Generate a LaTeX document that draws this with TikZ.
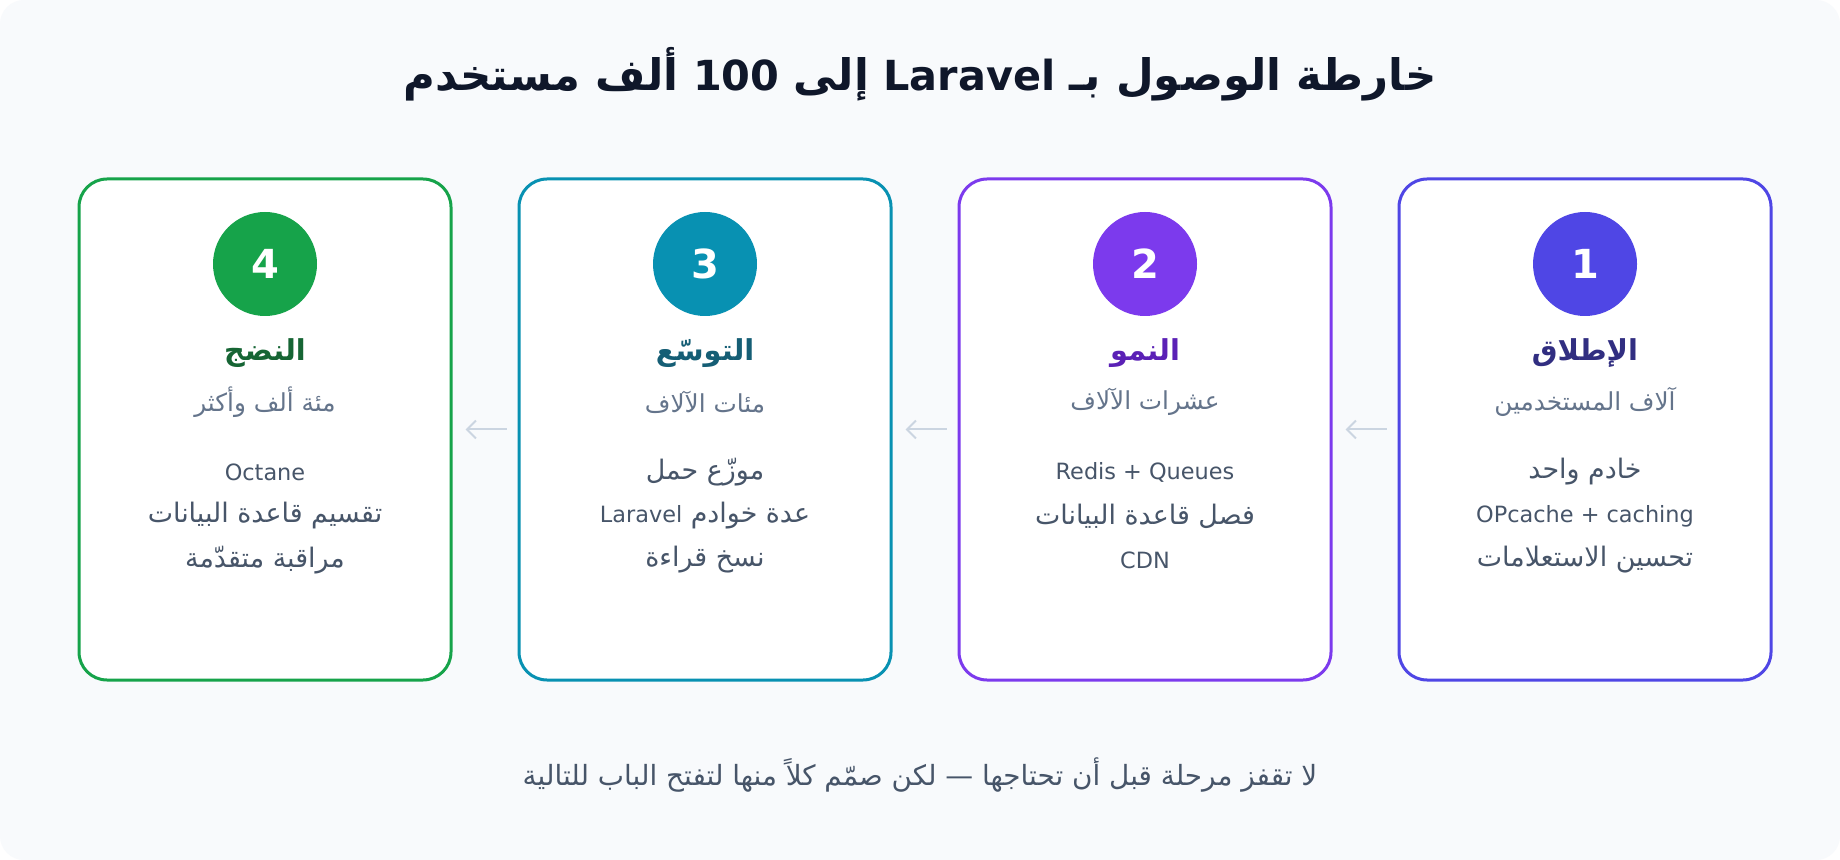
\documentclass[tikz,border=0pt]{standalone}
\usepackage{fontspec}
\setmainfont{DejaVu Sans}
\newfontfamily\arabicfont[Script=Arabic, Scale=1.2]{DejaVu Sans}
\TeXXeTstate=1
\usetikzlibrary{arrows.meta}
\definecolor{bgc}{HTML}{F8FAFC}
\definecolor{headc}{HTML}{0F172A}
\definecolor{subc}{HTML}{64748B}
\definecolor{itemc}{HTML}{475569}
\definecolor{arrowc}{HTML}{CBD5E1}
\definecolor{one}{HTML}{4F46E5}
\definecolor{oneT}{HTML}{312E81}
\definecolor{two}{HTML}{7C3AED}
\definecolor{twoT}{HTML}{5B21B6}
\definecolor{three}{HTML}{0891B2}
\definecolor{threeT}{HTML}{155E75}
\definecolor{four}{HTML}{16A34A}
\definecolor{fourT}{HTML}{166534}
\newcommand{\artext}[1]{\arabicfont\beginR #1\endR}
\newcommand{\lat}[1]{\beginL{\rmfamily #1}\endL}
\newcommand{\headar}{\arabicfont\fontsize{18.1}{22}\selectfont}
\tikzset{
    card/.style={draw=#1, line width=1.5pt, fill=white, rounded corners=14pt,
        minimum width=186pt, minimum height=250.5pt, inner sep=0pt},
    badge/.style={circle, fill=#1, minimum size=52pt, inner sep=0pt, text=white,
        font=\bfseries\fontsize{20}{22}\selectfont},
    stagetitle/.style={text=#1, font=\arabicfont\bfseries\fontsize{12}{15}\selectfont},
    stagesub/.style={text=subc, font=\arabicfont\fontsize{10.3}{12}\selectfont},
    item/.style={text=itemc, font=\fontsize{11.2}{13}\selectfont},
    flow/.style={draw=arrowc, line width=1pt, -{Straight Barb[length=4.5pt,width=9pt]}}
}
\begin{document}
\begin{tikzpicture}[x=0.5pt, y=-0.5pt]
    \useasboundingbox (0,0) rectangle (1840,860);
    \fill[white] (0,0) rectangle (1840,860);
    \fill[bgc, rounded corners=12pt] (0,0) rectangle (1840,860);
    \node[text=headc, font=\bfseries\fontsize{20.7}{24}\selectfont] (title) at (920,74)
        {\beginR{\headar خارطة الوصول بـ} \lat{Laravel} {\headar إلى} \lat{100} {\headar ألف مستخدم}\endR};
    % four stages, right to left
    \foreach \i/\col/\tcol/\ttl/\sub/\ia/\ib/\ic in {
        1/one/oneT/{الإطلاق}/{آلاف المستخدمين}/{\artext{خادم واحد}}/{OPcache + caching}/{\artext{تحسين الاستعلامات}},
        2/two/twoT/{النمو}/{عشرات الآلاف}/{Redis + Queues}/{\artext{فصل قاعدة البيانات}}/{CDN},
        3/three/threeT/{التوسّع}/{مئات الآلاف}/{\artext{موزّع حمل}}/{\artext{عدة خوادم \lat{Laravel}}}/{\artext{نسخ قراءة}},
        4/four/fourT/{النضج}/{مئة ألف وأكثر}/{Octane}/{\artext{تقسيم قاعدة البيانات}}/{\artext{مراقبة متقدّمة}}}{
        \pgfmathsetmacro\cx{1585-440*(\i-1)}
        \node[card=\col] (card\i) at (\cx,429.5) {};
        \node[badge=\col] (num\i) at (\cx,264) {\i};
        \node[stagetitle=\tcol] (name\i) at (\cx,353) {\beginR\ttl\endR};
        \node[stagesub] (sub\i) at (\cx,402) {\beginR\sub\endR};
        \node[item] (ia\i) at (\cx,472) {\ia};
        \node[item] (ib\i) at (\cx,516) {\ib};
        \node[item] (ic\i) at (\cx,560) {\ic};
    }
    \foreach \i [evaluate=\i as \j using int(\i+1)] in {1,2,3}
        \draw[flow] ([xshift=-5.5pt]card\i.west) -- ([xshift=6.5pt]card\j.east);
    \node[text=itemc, font=\arabicfont\fontsize{11.6}{13}\selectfont] (note) at (920,775)
        {\beginR لا تقفز مرحلة قبل أن تحتاجها — لكن صمّم كلاً منها لتفتح الباب للتالية\endR};
\end{tikzpicture}
\end{document}
